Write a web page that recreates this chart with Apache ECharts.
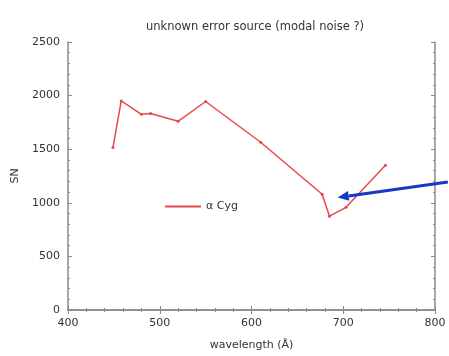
<!DOCTYPE html>
<html>
<head>
<meta charset="utf-8">
<script src="https://cdn.jsdelivr.net/npm/echarts@6/dist/echarts.min.js"></script>
<style>
  html, body { margin: 0; padding: 0; background: #fff; }
  #chart { width: 449px; height: 356px; }
</style>
</head>
<body>
<div id="chart"></div>
<script>
// wavelength and SN values
const wavelength = [449, 458, 480, 490, 520, 550, 610, 677, 685, 703, 746];
const sn = [1515, 1950, 1825, 1833, 1760, 1945, 1565, 1080, 875, 958, 1350];
const seriesName = 'α Cyg';
// arrow annotation, in data units: [start, tip]
const arrowFrom = [814, 1195];
const arrowTo = [694, 1050];

const axisColor = '#8a8a8a';
const textColor = '#333';
const font = 'DejaVu Sans';

const chart = echarts.init(document.getElementById('chart'));

const baseAxis = {
    axisLine: { show: true, lineStyle: { color: axisColor, width: 1.5 } },
    axisTick: { show: true, inside: true, length: 4, lineStyle: { color: axisColor } },
    minorTick: { show: true, splitNumber: 5, length: 2, lineStyle: { color: axisColor } },
    splitLine: { show: false },
    minorSplitLine: { show: false }
};

const option = {
    animation: false,
    textStyle: { fontFamily: font },
    title: {
        text: 'unknown error source (modal noise ?)',
        left: 250,
        textAlign: 'center',
        top: 16,
        textStyle: { fontSize: 11.5, fontWeight: 'normal', color: textColor, fontFamily: font }
    },
    legend: {
        data: [seriesName],
        left: 160,
        top: 196,
        icon: 'rect',
        itemWidth: 36,
        itemHeight: 2,
        itemGap: 10,
        textStyle: { fontSize: 11, color: textColor, fontFamily: font }
    },
    grid: { left: 68, right: 14, top: 42, bottom: 43 },
    xAxis: [
        Object.assign({}, baseAxis, {
            type: 'value', min: 400, max: 800, interval: 100,
            name: 'wavelength (Å)', nameLocation: 'middle', nameGap: 30,
            nameTextStyle: { fontSize: 11, color: textColor, fontFamily: font },
            axisLabel: { fontSize: 11, color: textColor, margin: 8 }
        }),
        Object.assign({}, baseAxis, {
            type: 'value', min: 400, max: 800, interval: 100, position: 'top',
            axisLabel: { show: false }
        })
    ],
    yAxis: [
        Object.assign({}, baseAxis, {
            type: 'value', min: 0, max: 2500, interval: 500,
            name: 'SN', nameLocation: 'middle', nameGap: 42,
            nameTextStyle: { fontSize: 11, color: textColor, fontFamily: font },
            axisLabel: { fontSize: 11, color: textColor, margin: 8, formatter: v => String(v) }
        }),
        Object.assign({}, baseAxis, {
            type: 'value', min: 0, max: 2500, interval: 500, position: 'right',
            axisLabel: { show: false }
        })
    ],
    series: [{
        name: seriesName,
        type: 'line',
        data: wavelength.map((w, i) => [w, sn[i]]),
        symbol: 'circle',
        symbolSize: 3,
        lineStyle: { color: '#e8474d', width: 1.5 },
        itemStyle: { color: '#e8474d' }
    }]
};

chart.setOption(option);

// blue arrow, placed through the axes' own scales
const p0 = chart.convertToPixel({ gridIndex: 0 }, arrowFrom);
const p1 = chart.convertToPixel({ gridIndex: 0 }, arrowTo);
const ang = Math.atan2(p1[1] - p0[1], p1[0] - p0[0]);
const headLen = 11, headW = 5;
const bx = p1[0] - headLen * Math.cos(ang), by = p1[1] - headLen * Math.sin(ang);
const nx = -Math.sin(ang), ny = Math.cos(ang);
chart.setOption({
    graphic: [
        {
            type: 'line',
            shape: { x1: p0[0], y1: p0[1], x2: bx, y2: by },
            style: { stroke: '#1538c8', lineWidth: 3 },
            z: 100
        },
        {
            type: 'polygon',
            shape: { points: [[p1[0], p1[1]], [bx + nx * headW, by + ny * headW], [bx - nx * headW, by - ny * headW]] },
            style: { fill: '#1538c8' },
            z: 100
        }
    ]
});
</script>
</body>
</html>
